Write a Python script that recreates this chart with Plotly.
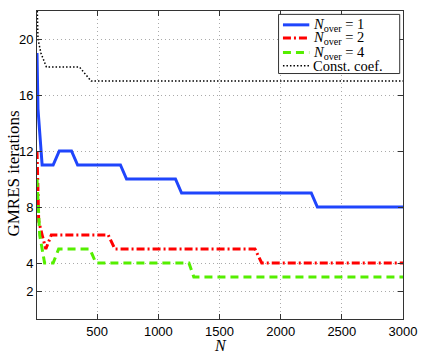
import plotly.graph_objects as go

# GMRES iterations vs N
n_over1_x = [8, 16, 50, 140, 190, 290, 340, 690, 740, 1140, 1190, 2250, 2300, 3000]
n_over1_y = [19, 15, 11, 11, 12, 12, 11, 11, 10, 10, 9, 9, 8, 8]

n_over2_x = [8, 22, 50, 80, 125, 590, 645, 1790, 1845, 3000]
n_over2_y = [12, 7, 6, 5, 6, 6, 5, 5, 4, 4]

n_over4_x = [8, 16, 30, 70, 140, 185, 440, 490, 1250, 1290, 3000]
n_over4_y = [10, 8, 6, 4, 4, 5, 5, 4, 4, 3, 3]

const_x = [8, 16, 40, 85, 355, 450, 3000]
const_y = [23, 20, 19, 18, 18, 17, 17]

x_ticks = [500, 1000, 1500, 2000, 2500, 3000]
y_ticks = [2, 4, 8, 12, 16, 20]

series_names = ['<i>N</i><sub>over</sub> = 1', '<i>N</i><sub>over</sub> = 2',
                '<i>N</i><sub>over</sub> = 4', 'Const. coef.']

styles = [dict(color='#1f45fc', width=3),
          dict(color='#ff0000', width=3, dash='8px,3px,2px,3px'),
          dict(color='#55ee00', width=3, dash='8px,5px'),
          dict(color='#000000', width=1.5, dash='1.5px,2px')]

fig = go.Figure()
for xs, ys, name, st in zip([n_over1_x, n_over2_x, n_over4_x, const_x],
                            [n_over1_y, n_over2_y, n_over4_y, const_y],
                            series_names, styles):
    fig.add_trace(go.Scatter(x=xs, y=ys, mode='lines', line=st, name=name,
                             showlegend=False))

axis_common = dict(showline=True, mirror='ticks', linecolor='#333', linewidth=1,
                   ticks='inside', ticklen=5, tickcolor='#333',
                   showgrid=True, gridcolor='#aaaaaa', griddash='1px,3px', gridwidth=1,
                   zeroline=False,
                   tickfont=dict(family='Liberation Sans', size=13, color='#000'))

# legend drawn as a boxed key in the top right corner (MATLAB style, tight rows)
shapes = [dict(type='rect', xref='paper', yref='paper', x0=0.660, x1=0.991,
               y0=0.797, y1=0.989, fillcolor='white', line=dict(color='#333', width=1),
               layer='above')]
annotations = []
row_y = [0.955, 0.912, 0.865, 0.822]
for yy, name, st in zip(row_y, series_names, styles):
    shapes.append(dict(type='line', xref='paper', yref='paper', x0=0.672, x1=0.744,
                       y0=yy, y1=yy, line=st, layer='above'))
    annotations.append(dict(text=name, xref='paper', yref='paper', x=0.751, y=yy,
                            xanchor='left', yanchor='middle', showarrow=False,
                            borderpad=0,
                            font=dict(family='Liberation Serif', size=14.5, color='#000')))

annotations += [
    dict(text='GMRES iterations', textangle=-90, xref='paper', yref='paper',
         x=-0.063, y=0.472, xanchor='center', yanchor='middle', showarrow=False,
         font=dict(family='Liberation Serif', size=17, color='#000')),
    dict(text='<i>N</i>', xref='paper', yref='paper', x=0.5, y=-0.085,
         xanchor='center', yanchor='middle', showarrow=False,
         font=dict(family='Liberation Serif', size=16, color='#000')),
]

fig.update_layout(
    width=427, height=354,
    margin=dict(l=37, r=21, t=10, b=35),
    plot_bgcolor='white', paper_bgcolor='white',
    xaxis=dict(range=[8, 3000], tickvals=x_ticks, **axis_common),
    yaxis=dict(range=[0, 22], tickvals=y_ticks, **axis_common),
    showlegend=False,
    shapes=shapes,
    annotations=annotations,
)

# page body has an 8px default margin; remove it so the figure fills the window
fig.write_html('out.html', config={'displayModeBar': False},
               post_script="document.body.style.margin='0';")
